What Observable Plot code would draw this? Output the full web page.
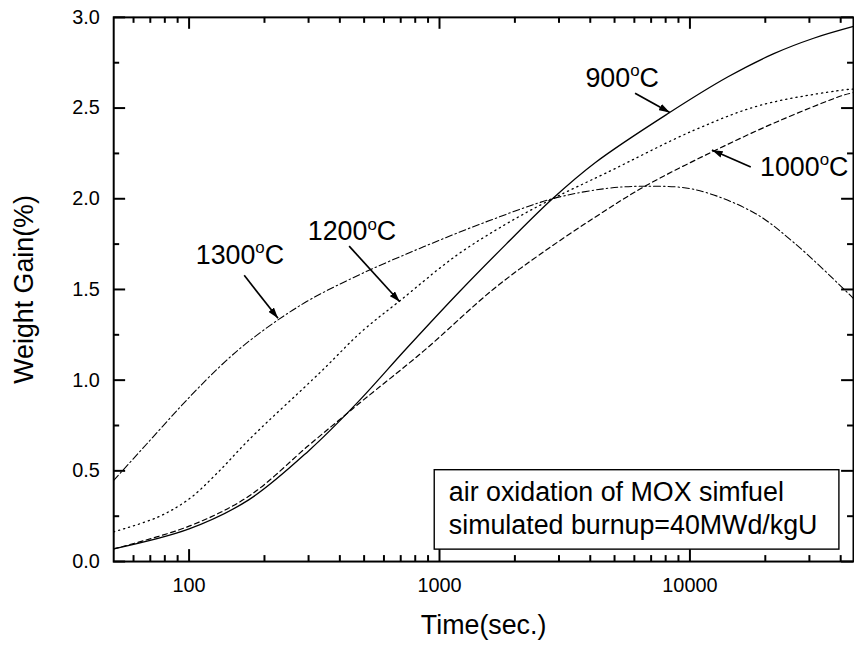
<!DOCTYPE html>
<html><head><meta charset="utf-8">
<script src="https://cdn.jsdelivr.net/npm/d3@7"></script>
<script src="https://cdn.jsdelivr.net/npm/@observablehq/plot@0.6"></script>
<style>
html,body{margin:0;padding:0;background:#fff;overflow:hidden;}
#chart svg{display:block;}
</style></head><body><div id="chart"></div>
<script>
// ---- data ----
const t900 = [50, 100, 173, 300, 470, 741, 1206, 1846, 2826, 4195, 8181, 14143, 21630, 31190, 45000];
const v900 = [0.07, 0.18, 0.34, 0.61, 0.876, 1.177, 1.49, 1.75, 2.0, 2.2, 2.47, 2.671, 2.80, 2.885, 2.95];
const t1000 = [50, 100, 173, 300, 394, 500, 863, 1636, 2500, 4195, 6616, 12330, 22310, 41000, 45000];
const v1000 = [0.07, 0.195, 0.36, 0.64, 0.776, 0.894, 1.16, 1.50, 1.69, 1.90, 2.069, 2.26, 2.425, 2.571, 2.585];
const t1200 = [50, 75, 100, 130, 173, 338, 489, 698, 1170, 1846, 2826, 4593, 10436, 19180, 41000, 45000];
const v1200 = [0.164, 0.245, 0.345, 0.49, 0.67, 1.05, 1.268, 1.44, 1.688, 1.861, 2.0, 2.14, 2.379, 2.516, 2.60, 2.605];
const t1300 = [50, 67.7, 91.9, 116.8, 140, 168.2, 228, 309.7, 489, 863, 1585, 2826, 4593, 6616, 10436, 18030, 25970, 41000, 45000];
const v1300 = [0.447, 0.648, 0.85, 1.0, 1.105, 1.2, 1.335, 1.45, 1.587, 1.735, 1.88, 2.0, 2.056, 2.069, 2.051, 1.923, 1.759, 1.505, 1.45];

const xMajor = [100, 1000, 10000];
const xMinor = [60, 70, 80, 90, 200, 300, 400, 500, 600, 700, 800, 900, 2000, 3000, 4000, 5000, 6000, 7000, 8000, 9000, 20000, 30000, 40000];
const yMajor = [0, 0.5, 1.0, 1.5, 2.0, 2.5, 3.0];
const yMinor = [0.25, 0.75, 1.25, 1.75, 2.25, 2.75];

const labelText = ["900°C", "1000°C", "1200°C", "1300°C"];
const labelT = [3827, 19050, 297.9, 106.3];
const labelV = [2.615, 2.124, 1.77, 1.642];
const arrowT1 = [6039, 17500, 435.7, 166];
const arrowV1 = [2.582, 2.175, 1.739, 1.578];
const arrowT2 = [8310, 12240, 693.8, 226.5];
const arrowV2 = [2.476, 2.269, 1.432, 1.341];

const boxLines = ["air oxidation of MOX simfuel", "simulated burnup=40MWd/kgU"];
const boxLineV = [0.334, 0.153];
const boxTextT = 1089;
const boxT = [957, 39530];
const boxV = [0.0657, 0.5036];

const xTitle = "Time(sec.)";
const yTitle = "Weight Gain(%)";

// ---- layout ----
const W = 860, H = 650, ML = 114, MR = 1, MT = 17, MB = 85;
const PW = W - ML - MR, PH = H - MT - MB;
const FONT = "Liberation Sans, Arial, Helvetica, sans-serif";

const rows = (ts, vs) => ts.map((t, i) => ({t, v: vs[i]}));
const arrows = arrowT1.map((_, i) => ({t1: arrowT1[i], v1: arrowV1[i], t2: arrowT2[i], v2: arrowV2[i]}));
const labels = labelText.map((s, i) => ({s, t: labelT[i], v: labelV[i]}));
const boxText = boxLines.map((s, i) => ({s, t: boxTextT, v: boxLineV[i]}));

const tk = {stroke: "#000", strokeWidth: 2};

const chart = Plot.plot({
  width: W, height: H,
  marginLeft: ML, marginRight: MR, marginTop: MT, marginBottom: MB,
  style: {fontFamily: FONT, background: "#fff", color: "#000", overflow: "visible"},
  x: {type: "log", domain: [50, 45000], label: null},
  y: {domain: [0, 3], label: null},
  marks: [
    Plot.line(rows(t900, v900), {x: "t", y: "v", stroke: "#000", strokeWidth: 1.3, curve: "catmull-rom"}),
    Plot.line(rows(t1000, v1000), {x: "t", y: "v", stroke: "#000", strokeWidth: 1.2, strokeDasharray: "5,3.5", curve: "catmull-rom"}),
    Plot.line(rows(t1200, v1200), {x: "t", y: "v", stroke: "#000", strokeWidth: 1.3, strokeDasharray: "1.2,4", curve: "catmull-rom"}),
    Plot.line(rows(t1300, v1300), {x: "t", y: "v", stroke: "#000", strokeWidth: 1.1, strokeDasharray: "7,3,1.5,3", curve: "catmull-rom"}),
    // legend box
    Plot.rect([{}], {x1: () => boxT[0], x2: () => boxT[1], y1: () => boxV[0], y2: () => boxV[1], fill: "#fff", stroke: "#000", strokeWidth: 1.4}),
    Plot.text(boxText, {x: "t", y: "v", text: "s", textAnchor: "start", lineAnchor: "bottom", fontSize: 27, fill: "#000"}),
    // annotations
    Plot.link(arrows, {x1: "t1", y1: "v1", x2: "t2", y2: "v2", stroke: "#000", strokeWidth: 1.7}),
    Plot.text(labels, {x: "t", y: "v", text: "s", textAnchor: "start", lineAnchor: "bottom", fontSize: 27, fill: "#000"}),
    // frame
    Plot.frame({stroke: "#000", strokeWidth: 2}),
    // inward ticks on all four sides
    Plot.tickX(xMajor, {x: d => d, insetTop: PH - 12, ...tk}),
    Plot.tickX(xMinor, {x: d => d, insetTop: PH - 6, ...tk}),
    Plot.tickX(xMajor, {x: d => d, insetBottom: PH - 12, ...tk}),
    Plot.tickX(xMinor, {x: d => d, insetBottom: PH - 6, ...tk}),
    Plot.tickY(yMajor, {y: d => d, insetRight: PW - 12, ...tk}),
    Plot.tickY(yMinor, {y: d => d, insetRight: PW - 6, ...tk}),
    Plot.tickY(yMajor, {y: d => d, insetLeft: PW - 12, ...tk}),
    Plot.tickY(yMinor, {y: d => d, insetLeft: PW - 6, ...tk}),
    // tick labels
    Plot.axisX({ticks: xMajor, anchor: "bottom", tickSize: 0, tickPadding: 16, fontSize: 20, tickFormat: d => String(d), label: null, fill: "#000"}),
    Plot.axisY({ticks: yMajor, anchor: "left", tickSize: 0, tickPadding: 14, fontSize: 20, tickFormat: d3.format(".1f"), label: null, fill: "#000"}),
    // axis titles
    Plot.text([xTitle], {text: d => d, frameAnchor: "bottom", textAnchor: "middle", dy: 73, lineAnchor: "bottom", fontSize: 27, fill: "#000"}),
    Plot.text([yTitle], {text: d => d, frameAnchor: "left", textAnchor: "middle", dx: -90, rotate: -90, lineAnchor: "middle", fontSize: 27, fill: "#000"})
  ]
});

document.getElementById("chart").appendChild(chart);

// filled arrowheads on the annotation arrows (the only link mark)
const root = d3.select(chart);
const defs = root.insert("defs", ":first-child");
defs.append("marker")
  .attr("id", "ahead").attr("viewBox", "0 0 10 10").attr("refX", 10).attr("refY", 5)
  .attr("markerUnits", "userSpaceOnUse").attr("markerWidth", 11).attr("markerHeight", 7)
  .attr("preserveAspectRatio", "none").attr("orient", "auto")
  .append("path").attr("d", "M0,0L10,5L0,10Z").attr("fill", "#000");
root.selectAll('g[aria-label="link"] path').attr("marker-end", "url(#ahead)");

// superscript "o" in temperature labels
root.selectAll("text").filter(function() { return /^\d+°C$/.test(this.textContent); }).each(function() {
  const m = this.textContent.match(/^(\d+)°C$/);
  const el = d3.select(this);
  el.text(null);
  el.append("tspan").text(m[1]);
  el.append("tspan").attr("font-size", 17).attr("dy", -11).text("o");
  el.append("tspan").attr("dy", 11).text("C");
});
</script>
</body></html>
